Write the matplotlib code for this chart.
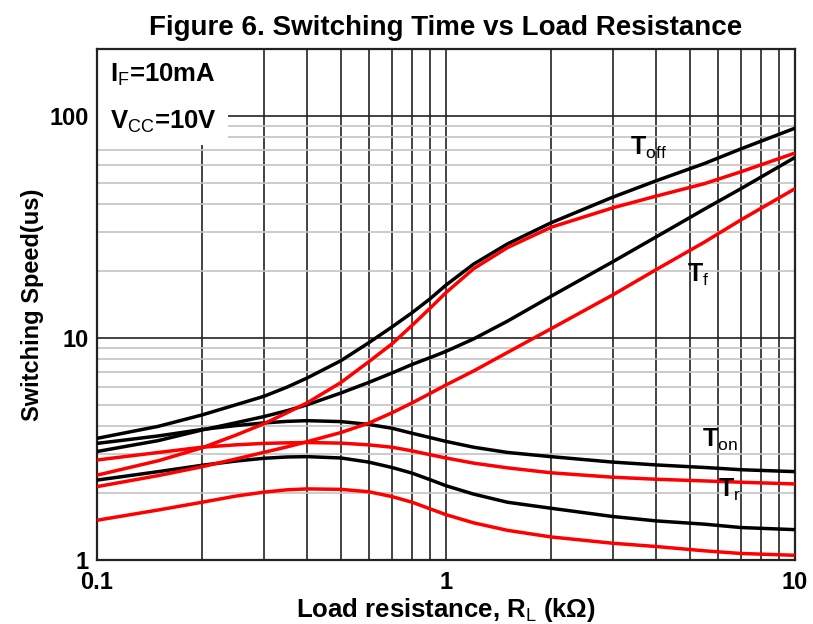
import matplotlib
matplotlib.use("Agg")
import matplotlib.pyplot as plt
from matplotlib import font_manager
from matplotlib.patches import Rectangle
from matplotlib.ticker import FixedLocator, NullFormatter, FixedFormatter, LogLocator

# ---------------- data ----------------
rl = [0.1, 0.15, 0.2, 0.25, 0.3, 0.35, 0.4, 0.5, 0.6, 0.7, 0.8, 0.9, 1.0, 1.2, 1.5, 2, 3, 4, 5.5, 7, 10]

toff_black = [3.53, 4.0, 4.5, 5.0, 5.45, 6.0, 6.6, 7.9, 9.5, 11.2, 13.0, 15.0, 17.3, 21.5, 26.5, 33, 43, 51, 61, 71, 88]
toff_red   = [2.41, 2.8, 3.2, 3.65, 4.1, 4.6, 5.1, 6.3, 7.8, 9.4, 11.4, 13.6, 16.0, 20.5, 25.5, 31.5, 38.5, 43.5, 49.5, 56, 68]
tf_black   = [3.08, 3.45, 3.85, 4.15, 4.42, 4.7, 5.0, 5.65, 6.3, 6.95, 7.6, 8.15, 8.7, 9.9, 11.9, 15.4, 22, 28.5, 38, 47, 65]
tf_red     = [2.14, 2.4, 2.63, 2.85, 3.05, 3.23, 3.41, 3.75, 4.13, 4.6, 5.1, 5.62, 6.14, 7.1, 8.6, 11.0, 15.6, 20.3, 27, 34, 47]
ton_black  = [3.35, 3.62, 3.87, 4.03, 4.14, 4.21, 4.24, 4.2, 4.08, 3.92, 3.72, 3.56, 3.42, 3.22, 3.05, 2.92, 2.76, 2.68, 2.61, 2.55, 2.50]
ton_red    = [2.82, 3.05, 3.22, 3.3, 3.35, 3.37, 3.38, 3.36, 3.30, 3.22, 3.10, 2.98, 2.88, 2.73, 2.6, 2.47, 2.36, 2.31, 2.27, 2.24, 2.20]
tr_black   = [2.29, 2.5, 2.67, 2.79, 2.87, 2.91, 2.92, 2.88, 2.76, 2.61, 2.46, 2.3, 2.16, 1.98, 1.82, 1.71, 1.57, 1.50, 1.45, 1.40, 1.37]
tr_red     = [1.51, 1.68, 1.82, 1.94, 2.02, 2.07, 2.09, 2.08, 2.03, 1.93, 1.82, 1.7, 1.6, 1.47, 1.36, 1.27, 1.19, 1.15, 1.10, 1.07, 1.05]

x_ticks = [0.1, 1, 10]
x_ticklabels = ["0.1", "1", "10"]
y_ticks = [1, 10, 100]
y_ticklabels = ["1", "10", "100"]

title = "Figure 6. Switching Time vs Load Resistance"
xlabel = r"Load resistance, R$_{\mathrm{L}}$ (kΩ)"
ylabel = "Switching Speed(us)"

# ---------------- fonts ----------------
names = {f.name for f in font_manager.fontManager.ttflist}
fam = "Liberation Sans Narrow" if "Liberation Sans Narrow" in names else "Liberation Sans"
plt.rcParams["font.family"] = [fam, "DejaVu Sans"]
plt.rcParams["mathtext.fontset"] = "custom"
plt.rcParams["mathtext.rm"] = fam
plt.rcParams["mathtext.bf"] = fam + ":bold"
plt.rcParams["mathtext.it"] = fam + ":italic"

fig = plt.figure(figsize=(8.13, 6.24), dpi=100)
ax = fig.add_axes([97 / 813, 1 - 560 / 624, (795 - 97) / 813, (560 - 49) / 624])

ax.set_xscale("log")
ax.set_yscale("log")
ax.set_xlim(0.1, 10)
ax.set_ylim(1, 200)

# grid
ax.xaxis.set_major_locator(FixedLocator(x_ticks))
ax.xaxis.set_minor_locator(LogLocator(base=10, subs=range(2, 10)))
ax.yaxis.set_major_locator(FixedLocator(y_ticks))
ax.yaxis.set_minor_locator(LogLocator(base=10, subs=range(2, 10)))
ax.xaxis.set_major_formatter(FixedFormatter(x_ticklabels))
ax.yaxis.set_major_formatter(FixedFormatter(y_ticklabels))
ax.xaxis.set_minor_formatter(NullFormatter())
ax.yaxis.set_minor_formatter(NullFormatter())

ax.grid(True, which="both", axis="x", color="#222222", lw=1.2)
ax.grid(True, which="major", axis="y", color="#222222", lw=1.2)
ax.grid(True, which="minor", axis="y", color="#c4c4c4", lw=1.2)
ax.set_axisbelow(True)

ax.tick_params(which="both", length=0)
ax.tick_params(axis="x", which="major", pad=8)
ax.tick_params(axis="y", which="major", pad=6)
for lab in ax.get_xticklabels() + ax.get_yticklabels():
    lab.set_fontsize(17)
    lab.set_fontweight("bold")

for s in ax.spines.values():
    s.set_color("#222222")
    s.set_linewidth(1.6)

# white box for conditions
ax.add_patch(Rectangle((0, 0.812), 0.188, 0.188, transform=ax.transAxes,
                       facecolor="white", edgecolor="none", zorder=2))

lw = 2.5
for ys, c in [(toff_black, "black"), (tf_black, "black"), (ton_black, "black"), (tr_black, "black"),
              (toff_red, "#ff0000"), (tf_red, "#ff0000"), (ton_red, "#ff0000"), (tr_red, "#ff0000")]:
    ax.plot(rl, ys, color=c, lw=lw, zorder=3, solid_capstyle="butt", solid_joinstyle="round")

ax.text(0.019, 0.949, r"$\mathbf{I}_{\mathrm{F}}$" + "=10mA", transform=ax.transAxes,
        fontsize=18.5, fontweight="bold", va="center", ha="left", zorder=4)
ax.text(0.019, 0.857, r"$\mathbf{V}_{\mathrm{CC}}$" + "=10V", transform=ax.transAxes,
        fontsize=18.5, fontweight="bold", va="center", ha="left", zorder=4)

lab_kw = dict(fontsize=18, va="center", ha="left", zorder=4)
ax.text(3.37, 72, r"$\mathbf{T}_{\mathrm{off}}$", **lab_kw)
ax.text(4.9, 19.2, r"$\mathbf{T}_{\mathrm{f}}$", **lab_kw)
ax.text(5.41, 3.47, r"$\mathbf{T}_{\mathrm{on}}$", **lab_kw)
ax.text(6.02, 2.07, r"$\mathbf{T}_{\mathrm{r}}$", **lab_kw)

ax.set_title(title, fontsize=20, fontweight="bold", pad=10)
ax.set_xlabel(xlabel, fontsize=18.5, fontweight="bold", labelpad=1)
ax.set_ylabel(ylabel, fontsize=17, fontweight="bold", labelpad=4)

fig.savefig("out.png", dpi=100)
